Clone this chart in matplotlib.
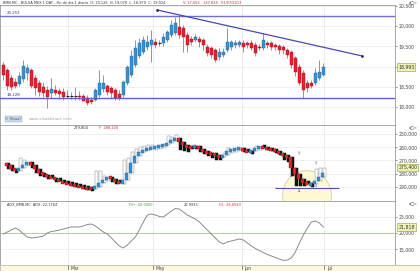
import matplotlib
matplotlib.use("Agg")
import matplotlib.pyplot as plt
import matplotlib.transforms as mtransforms
from matplotlib.patches import Ellipse
from matplotlib.ticker import FuncFormatter, FixedLocator

# ---------------- data ----------------
opens = [19043, 18919, 18722, 18623, 18573, 18697, 18845, 18919, 18722, 18598,
         18499, 18425, 18351, 18425, 18400, 18376, 18277, 18277, 18277, 18277,
         18277, 18228, 18178, 18178, 18302, 18450, 18524, 18474, 18425, 18326,
         18302, 18598, 18796, 19043, 19265, 19364, 19487, 19537, 19611, 19586,
         19586, 19660, 19784, 19833, 19981, 19956, 19784, 19685, 19660, 19685,
         19660, 19487, 19462, 19413, 19240, 19290, 19413, 19487, 19537, 19537,
         19586, 19586, 19586, 19537, 19487, 19462, 19586, 19586, 19537, 19512,
         19487, 19413, 19364, 19215, 18993, 18845, 18598, 18598, 18598, 18722,
         18796]
highs = [19117, 18968, 18796, 18722, 18870, 19166, 19067, 18968, 18796, 18672,
         18623, 18524, 18722, 18549, 18474, 18474, 18425, 18376, 18499, 18400,
         18326, 18302, 18252, 18474, 18919, 18796, 18573, 18524, 18474, 18425,
         18672, 19043, 19413, 19660, 19709, 19759, 19784, 19907, 19709, 19660,
         19833, 19907, 20154, 20228, 20278, 20031, 19858, 19759, 19808, 19759,
         19709, 19561, 19512, 19462, 19462, 19462, 19956, 19660, 19660, 19660,
         19660, 19635, 19660, 19611, 19561, 19833, 19635, 19635, 19586, 19561,
         19537, 19462, 19413, 19265, 19067, 18919, 18672, 18672, 18968, 19166,
         19092]
lows = [18672, 18425, 18425, 18474, 18524, 18623, 18672, 18474, 18302, 18277,
        18252, 17980, 18228, 18302, 18203, 18178, 18228, 18203, 18178, 18178,
        18153, 18055, 18079, 18153, 18252, 18376, 18302, 18228, 18178, 18178,
        18252, 18549, 18746, 18993, 19215, 19314, 19413, 19117, 19462, 19512,
        19512, 19611, 19734, 19784, 19709, 19364, 19364, 19537, 19611, 19487,
        19413, 19265, 19215, 19117, 19166, 19240, 19364, 19413, 19462, 19487,
        19364, 19462, 19413, 19265, 19413, 19413, 19462, 19413, 19413, 19314,
        19314, 19215, 18968, 18771, 18549, 18228, 18376, 18474, 18549, 18672,
        18771]
closes = [18796, 18524, 18499, 18524, 18771, 19018, 18968, 18524, 18474, 18376,
          18351, 18252, 18450, 18351, 18326, 18252, 18277, 18277, 18277, 18252,
          18153, 18104, 18129, 18425, 18598, 18598, 18376, 18351, 18228, 18228,
          18623, 18993, 19265, 19462, 19586, 19660, 19611, 19660, 19537, 19586,
          19734, 19858, 20031, 20080, 19784, 19734, 19537, 19611, 19734, 19611,
          19537, 19339, 19290, 19166, 19364, 19364, 19611, 19611, 19586, 19611,
          19487, 19537, 19462, 19339, 19462, 19660, 19537, 19487, 19487, 19413,
          19413, 19290, 19043, 18870, 18598, 18425, 18474, 18524, 18845, 18870,
          18993]

resistance = 20253
support = 18228
trend_x = [38.5, 89.75]
trend_y = [20401, 19265]

# second panel indicator (inverted scale)
ind_v = [272300, 273800, 276100, 277700, 275400, 273100, 271500, 273800, 276100, 279200,
         280800, 282300, 283100, 284600, 286100, 286900, 287700, 288500, 289200, 290000,
         290800, 291500, 291500, 290000, 286900, 284600, 282300, 283800, 286100, 287700,
         284600, 279200, 272300, 266900, 263800, 262300, 261500, 260800, 260000, 259200,
         258500, 256900, 254600, 253100, 256200, 258500, 260000, 260000, 259200, 261500,
         263100, 264600, 264600, 266100, 267700, 266100, 263100, 262300, 261500, 260800,
         262300, 263800, 263100, 260800, 259200, 260800, 261500, 261500, 263100, 264600,
         266100, 267700, 275400, 280000, 283800, 286900, 288500, 287700, 285400, 282300,
         279200]
ind_w = [275400, 276100, 277700, 279200, 268500, 270000, 271500, 275400, 279200, 281500,
         282300, 283800, 284600, 286100, 286900, 287700, 288500, 289200, 290000, 290800,
         292300, 293000, 291500, 277700, 277700, 281500, 282300, 286100, 287700, 288500,
         270000, 268500, 263800, 261500, 260000, 259200, 258500, 258500, 259200, 258500,
         257700, 251500, 252300, 250800, 262300, 263100, 263800, 262300, 261500, 263800,
         265400, 266900, 268500, 270000, 270000, 264600, 260800, 260800, 260800, 260000,
         263800, 264600, 263800, 259200, 258500, 260000, 261500, 262300, 264600, 266100,
         270000, 271500, 281500, 289200, 289200, 289200, 289200, 288500, 276100, 275400,
         275400]
ind_support = 290700
ind_support_x = [67.9, 83.9]
circle_center = (75.9, 296500)
arrow_idx = [73.9, 71.9, 78.2, 78.2, 73.9]
arrow_val = [264600, 281500, 272300, 289200, 293000]
arrow_sym = ["↑", "↓", "↑", "↓", "↓"]
arrow_col = ["#5566cc", "#5566cc", "#5566cc", "#5566cc", "#333333"]

# third panel ADX
adx = [19697, 20303, 20909, 21515, 20909, 19697, 18788, 18485, 18636, 18788,
       19091, 20000, 20455, 20606, 20909, 21212, 21515, 21818, 21818, 21818,
       22121, 22576, 22727, 22121, 21212, 20303, 19697, 18485, 17273, 16061,
       15455, 16364, 17576, 18788, 20909, 23333, 25454, 25757, 25454, 25000,
       24848, 25757, 26666, 27424, 27272, 26363, 25454, 24848, 24242, 23333,
       22121, 20909, 19697, 18485, 17273, 16667, 17273, 17576, 17879, 18182,
       17879, 16970, 16061, 15303, 14697, 14091, 13485, 13031, 12576, 12122,
       11667, 11819, 12425, 14243, 16970, 19394, 21515, 23333, 23636, 23030,
       21818]
adx_level = 20000

month_idx = [16.2, 37.4, 59.7, 80.2]
month_labels = ["Mar", "May", "Jun", "Jul"]

price_ticks = [18000, 18500, 19000, 19500, 20000, 20500]
ind_ticks = [250000, 260000, 270000, 280000, 290000]
adx_ticks = [15000, 20000, 25000]

# ---------------- style ----------------
BLUE = "#3c8fcc"
BLUE_E = "#25679a"
RED = "#e2232a"
RED_E = "#9c1015"
GRID = "#e4e4e4"
FS = 3.3
plt.rcParams['font.family'] = ['DejaVu Sans']

fig = plt.figure(figsize=(4.2, 2.71), dpi=100)
fig.patch.set_facecolor("white")
H = 271.0
W = 395 / 420
ax1 = fig.add_axes([0, 1 - 125 / H, W, 120 / H])
ax2 = fig.add_axes([0, 1 - 201 / H, W, 76 / H])
ax3 = fig.add_axes([0, 1 - 265 / H, W, 64 / H])
strip = fig.add_axes([0, 0, 1, 6 / H])
strip.set_facecolor("#fdf8d8")
strip.set_xticks([]); strip.set_yticks([])
for s in strip.spines.values():
    s.set_color("#b0b0b0"); s.set_linewidth(0.5)

xlo, xhi = -0.825, 97.9
fmt = FuncFormatter(lambda v, p: "{:,.0f}".format(v))

for ax in (ax1, ax2, ax3):
    ax.set_xlim(xlo, xhi)
    ax.set_xticks([])
    for m in month_idx:
        ax.axvline(m, color=GRID, lw=0.5, zorder=0)
    for s in ax.spines.values():
        s.set_color("#9a9a9a"); s.set_linewidth(0.6)
    ax.yaxis.tick_right()
    ax.tick_params(axis='y', labelsize=FS, length=1.5, width=0.4, pad=1, colors="#444444")
    ax.yaxis.set_major_formatter(fmt)

strip.set_xlim(xlo, xhi * 420 / 395)
for m, lab in zip(month_idx, month_labels):
    strip.axvline(m, ymin=0.4, ymax=1, color="#555555", lw=0.5)
    strip.text(m + 0.6, 0.35, lab, fontsize=FS, color="#444444", va='center', ha='left')
strip.set_ylim(0, 1)

# ---------------- panel 1: candles ----------------
n = len(closes)
idx = list(range(n))
for i in idx:
    o, h, l, c = opens[i], highs[i], lows[i], closes[i]
    ax1.vlines(i, l, h, color="#6a6a6a", lw=0.5, zorder=2)
    if abs(c - o) < 15:
        ax1.hlines(o, i - 0.42, i + 0.42, color="#222222", lw=0.8, zorder=3)
    else:
        up = c > o
        ax1.bar(i, abs(c - o), bottom=min(o, c), width=0.82,
                color=BLUE if up else RED, edgecolor=BLUE_E if up else RED_E,
                linewidth=0.3, zorder=3)

ax1.axhline(resistance, color="#7070d0", lw=1.0, zorder=4)
ax1.axhline(support, color="#6060c8", lw=1.0, zorder=4)
ax1.plot(trend_x, trend_y, color="#4848b0", lw=0.9, zorder=4)
ax1.plot(trend_x, trend_y, 'o', color="#202040", ms=0.9, zorder=5)
ax1.set_ylim(17561, 20525)
ax1.yaxis.set_major_locator(FixedLocator(price_ticks))
for t in price_ticks:
    ax1.axhline(t, color=GRID, lw=0.4, zorder=0)
ax1.text(0.8, resistance + 30, "{:,.0f}".format(resistance).replace(",", "."), fontsize=2.8,
         color="#333366", va='bottom', ha='left')
ax1.text(0.8, support + 30, "{:,.0f}".format(support).replace(",", "."), fontsize=2.8,
         color="#333366", va='bottom', ha='left')

box = dict(boxstyle="square,pad=0.25", fc="#eef2b4", ec="#8c9a3c", lw=0.4)
tr1 = mtransforms.blended_transform_factory(ax1.transAxes, ax1.transData)
ax1.text(1.008, closes[-1], "{:,.0f}".format(closes[-1]), transform=tr1, fontsize=FS,
         va='center', ha='left', bbox=box, color="#333333", clip_on=False)

# watermark
ax1.text(0.5, 17660, "© Visual", fontsize=2.6, color="#445577", va='bottom',
         bbox=dict(boxstyle="square,pad=0.2", fc="#c8d8ea", ec="#90a8c8", lw=0.3))
ax1.text(6.3, 17660, "www.visualchart.com", fontsize=3.0, color="#9aa4b4", va='bottom')

# ---------------- panel 2: indicator bodies ----------------
for i in range(1, n):
    prev = ind_v[i - 1]
    w = ind_w[i]
    bw_up = w < prev
    bh = max(abs(w - prev), 2600)
    bb = min(w, prev) if abs(w - prev) >= 2600 else (prev - 1300)
    ax2.bar(i + 0.3, bh, bottom=bb, width=0.78,
            color="white" if bw_up else "#111111", edgecolor="#8a8a8a" if bw_up else "#111111",
            linewidth=0.35, zorder=3)
    v = ind_v[i]
    up = v < prev
    hgt = max(abs(v - prev), 2300)
    bot = min(v, prev) if abs(v - prev) >= 2300 else (min(v, prev) + max(v, prev)) / 2 - 1150
    ax2.bar(i - 0.15, hgt, bottom=bot, width=0.78,
            color=BLUE if up else RED, edgecolor=BLUE_E if up else RED_E,
            linewidth=0.3, zorder=4)

ax2.add_patch(Ellipse(circle_center, width=12.2, height=37500, fc="#fdf9d4",
                      ec="#cfc592", lw=0.5, zorder=1))
ax2.hlines(ind_support, ind_support_x[0], ind_support_x[1], color="#5050c0", lw=0.8, zorder=5)
for xi, yv, sym, col in zip(arrow_idx, arrow_val, arrow_sym, arrow_col):
    ax2.text(xi, yv, sym, fontsize=3.6, color=col, ha='center', va='center', zorder=6)
ax2.set_ylim(300750, 243100)
ax2.yaxis.set_major_locator(FixedLocator(ind_ticks))
for t in ind_ticks:
    ax2.axhline(t, color=GRID, lw=0.4, zorder=0)
tr2 = mtransforms.blended_transform_factory(ax2.transAxes, ax2.transData)
ax2.text(1.008, ind_w[-1], "{:,.0f}".format(ind_w[-1]), transform=tr2, fontsize=FS,
         va='center', ha='left', bbox=box, color="#333333", clip_on=False)
ax2.text(17.5, 245200, "279,804", fontsize=2.6, color="#333333", va='center', ha='left')
ax2.text(23.8, 245200, "F  288,100", fontsize=2.6, color="#d03030", va='center', ha='left')

# ---------------- panel 3: ADX ----------------
ax3.plot(idx, adx, color="#8a8a8a", lw=0.7, zorder=3)
ax3.axhline(adx_level, color="#9ccc8c", lw=0.6, zorder=2)
ax3.set_ylim(10300, 29700)
ax3.yaxis.set_major_locator(FixedLocator(adx_ticks))
for t in (15000, 25000):
    ax3.axhline(t, color=GRID, lw=0.4, zorder=0)
tr3 = mtransforms.blended_transform_factory(ax3.transAxes, ax3.transData)
ax3.text(1.008, adx[-1], "{:,.0f}".format(adx[-1]), transform=tr3, fontsize=FS,
         va='center', ha='left', bbox=box, color="#333333", clip_on=False)
ax3.text(1.0, 28600, "ADX_BMB.MC  ADX: 22,1764", fontsize=2.5, color="#333333", va='center', ha='left')
ax3.text(31.5, 28600, "DI+: 20,0000", fontsize=2.5, color="#3a9a3a", va='center', ha='left')
ax3.text(45.0, 28600, "20,9933", fontsize=2.5, color="#333333", va='center', ha='left')
ax3.text(54.0, 28600, "DI-: 26,6543", fontsize=2.5, color="#d03030", va='center', ha='left')

# ---------------- headers ----------------
fig.text(0.006, 1 - 3.2 / H, "BMB.MC - BOLSA MEX 1 DAY - Fin de dia 1 diaria  O: 19,126  H: 19,078  L: 18,979  C: 19,024",
         fontsize=2.5, color="#333333", va='center', ha='left')
fig.text(0.435, 1 - 3.2 / H, "V: 17,655   147,828   01/07/2013", fontsize=2.5, color="#c03030",
         va='center', ha='left')
for yy in (1 - 3 / H, 1 - 128 / H, 1 - 204 / H):
    fig.text(0.995, yy, "▫□×", fontsize=2.6, color="#555555", va='center', ha='right')

fig.savefig("out.png", dpi=100, facecolor="white")
